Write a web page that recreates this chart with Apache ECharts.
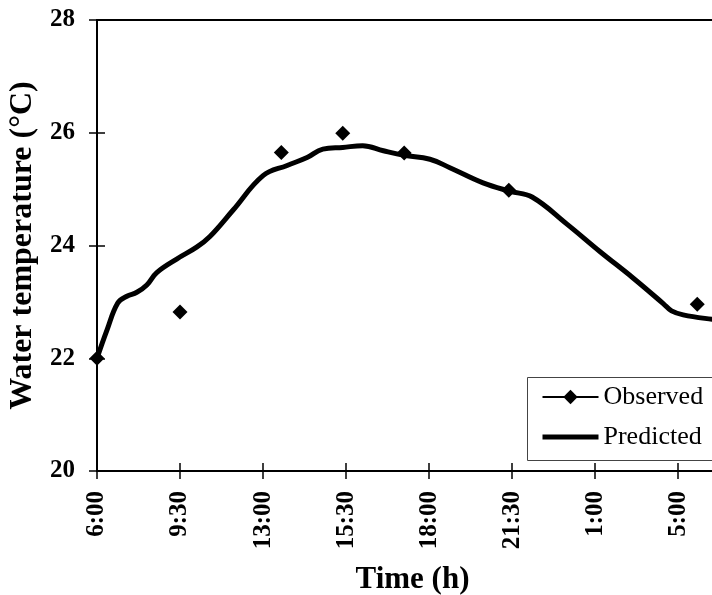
<!DOCTYPE html>
<html>
<head>
<meta charset="utf-8">
<script src="https://cdn.jsdelivr.net/npm/echarts@6/dist/echarts.min.js"></script>
<style>html,body{margin:0;padding:0;background:#fff;}#c{width:712px;height:595px;}</style>
</head>
<body>
<div id="c"></div>
<script>
// Tick labels on the time axis (one per unit of axis position)
var timeLabels = ['6:00', '9:30', '13:00', '15:30', '18:00', '21:30', '1:00', '5:00'];
// Observed water temperatures (axis position, °C)
var obsX = [0, 1.0, 2.22, 2.96, 3.70, 4.96, 7.23];
var obsY = [22.0, 22.82, 25.65, 25.99, 25.64, 24.98, 22.96];
// Predicted water temperatures (axis position, °C)
var predX = [0, 0.12, 0.25, 0.36, 0.48, 0.6, 0.72, 0.96, 1.2, 1.36, 1.64, 2.0, 2.29, 2.53, 2.72, 2.96, 3.2, 3.45, 3.7, 4.01, 4.25, 4.65, 4.98, 5.24, 5.66, 6.06, 6.46, 6.82, 6.92, 7.06, 7.41, 7.6];
var predY = [22.0, 22.5, 22.98, 23.1, 23.17, 23.3, 23.52, 23.76, 23.97, 24.16, 24.63, 25.24, 25.42, 25.56, 25.71, 25.74, 25.77, 25.68, 25.6, 25.53, 25.38, 25.11, 24.96, 24.86, 24.38, 23.89, 23.42, 22.97, 22.84, 22.77, 22.69, 22.66];

var obsData = obsX.map(function (x, i) { return [x, obsY[i]]; });
var predData = predX.map(function (x, i) { return [x, predY[i]]; });

var FONT = 'Liberation Serif';
var chart = echarts.init(document.getElementById('c'), null, { renderer: 'canvas' });
chart.setOption({
  animation: false,
  backgroundColor: '#fff',
  grid: { left: 97, top: 20, right: -16, bottom: 124, outerBoundsMode: 'none', containLabel: false,
          show: true, borderColor: '#000', borderWidth: 2 },
  graphic: [{
    type: 'rect', left: 527, top: 377, z: 3,
    shape: { width: 240, height: 83 },
    style: { fill: '#fff', stroke: '#444', lineWidth: 1 }
  }],
  xAxis: [{
    type: 'value', min: 0, max: 7.6, interval: 1,
    splitLine: { show: false },
    axisLine: { lineStyle: { color: '#000', width: 2 } },
    axisTick: { length: 8, lineStyle: { color: '#000', width: 1.5 } },
    axisLabel: {
      rotate: 90, margin: 20, color: '#000', fontFamily: FONT, fontWeight: 'bold', fontSize: 25,
      showMaxLabel: false,
      formatter: function (v) { var i = Math.round(v); return (Math.abs(v - i) < 1e-6 && timeLabels[i]) ? timeLabels[i] : ''; }
    },
    name: 'Time (h)', nameLocation: 'middle', nameGap: 93,
    nameTextStyle: { color: '#000', fontFamily: FONT, fontWeight: 'bold', fontSize: 31 }
  }, {
    type: 'value', min: 0, max: 7.6, interval: 1, position: 'bottom',
    splitLine: { show: false }, axisLine: { show: false }, axisLabel: { show: false },
    axisTick: { inside: true, length: 8, lineStyle: { color: '#000', width: 1.5 } }
  }],
  yAxis: [{
    type: 'value', min: 20, max: 28, interval: 2,
    splitLine: { show: false },
    axisLine: { show: true, lineStyle: { color: '#000', width: 2 } },
    axisTick: { show: true, length: 8, lineStyle: { color: '#000', width: 1.5 } },
    axisLabel: { margin: 22, color: '#000', fontFamily: FONT, fontWeight: 'bold', fontSize: 25 },
    name: 'Water temperature (°C)', nameLocation: 'middle', nameGap: 54,
    nameTextStyle: { color: '#000', fontFamily: FONT, fontWeight: 'bold', fontSize: 32 }
  }, {
    type: 'value', min: 20, max: 28, interval: 2, position: 'left',
    splitLine: { show: false }, axisLine: { show: false }, axisLabel: { show: false },
    axisTick: { show: true, inside: true, length: 8, lineStyle: { color: '#000', width: 1.5 } }
  }],
  legend: {
    orient: 'vertical', left: 527, top: 377, z: 5,
    padding: [7, 10, 9, 13], itemGap: 14, itemWidth: 56, itemHeight: 18,
    borderWidth: 0, backgroundColor: 'transparent',
    textStyle: { color: '#000', fontFamily: FONT, fontSize: 26, lineHeight: 26 },
    data: [
      { name: 'Observed', lineStyle: { color: '#000', width: 2, opacity: 1 } },
      { name: 'Predicted', itemStyle: { opacity: 0 }, lineStyle: { color: '#000', width: 5, opacity: 1 } }
    ]
  },
  series: [{
    name: 'Predicted', type: 'line', data: predData, smooth: 0.4,
    symbol: 'none', lineStyle: { color: '#000', width: 5 }, itemStyle: { color: '#000' }, z: 2
  }, {
    name: 'Observed', type: 'line', data: obsData,
    symbol: 'diamond', symbolSize: 15, showSymbol: true,
    lineStyle: { color: '#000', width: 0, opacity: 0 }, itemStyle: { color: '#000' }, z: 3
  }]
});
</script>
</body>
</html>
